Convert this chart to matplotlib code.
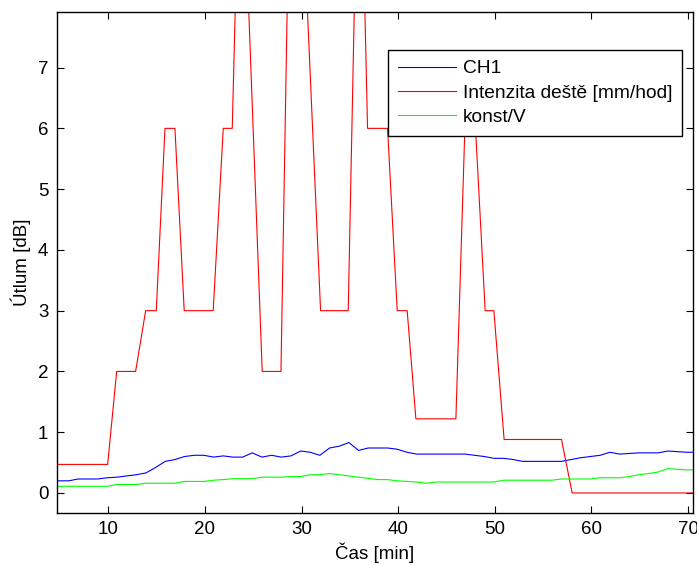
import matplotlib
matplotlib.use("Agg")
import matplotlib.pyplot as plt

plt.rcParams['font.family'] = ['Liberation Sans', 'DejaVu Sans']

# CH1 attenuation and constant/V reference, sampled about once a minute
t_att = [4.67, 5.9, 6.9, 7.9, 8.9, 9.9, 10.9, 11.9, 12.9, 13.9, 14.9, 15.9,
         16.9, 17.9, 18.9, 19.9, 20.9, 21.9, 22.9, 23.9, 24.9, 25.9, 26.9,
         27.9, 28.9, 29.9, 30.9, 31.9, 32.9, 33.9, 34.9, 35.9, 36.9, 37.9,
         38.9, 39.9, 40.9, 41.9, 42.9, 43.9, 44.9, 45.9, 46.9, 47.9, 48.9,
         49.9, 50.9, 51.9, 52.9, 53.9, 54.9, 55.9, 56.9, 57.9, 58.9, 59.9,
         60.9, 61.9, 62.9, 63.9, 64.9, 65.9, 66.9, 67.9, 68.9, 69.9, 70.5]

ch1 = [0.20, 0.20, 0.23, 0.23, 0.23, 0.25, 0.26, 0.28, 0.30, 0.33, 0.42, 0.52,
       0.55, 0.60, 0.62, 0.62, 0.59, 0.61, 0.59, 0.59, 0.66, 0.59, 0.62,
       0.59, 0.61, 0.69, 0.67, 0.62, 0.74, 0.77, 0.83, 0.70, 0.74, 0.74,
       0.74, 0.72, 0.67, 0.64, 0.64, 0.64, 0.64, 0.64, 0.64, 0.62, 0.60,
       0.57, 0.57, 0.55, 0.52, 0.52, 0.52, 0.52, 0.52, 0.55, 0.58, 0.60,
       0.62, 0.67, 0.64, 0.65, 0.66, 0.66, 0.66, 0.69, 0.68, 0.67, 0.67]

konst = [0.11, 0.11, 0.11, 0.11, 0.11, 0.11, 0.14, 0.14, 0.14, 0.16, 0.16, 0.16,
         0.16, 0.19, 0.19, 0.19, 0.21, 0.22, 0.235, 0.235, 0.235, 0.26, 0.26,
         0.26, 0.27, 0.27, 0.30, 0.30, 0.32, 0.30, 0.28, 0.26, 0.24, 0.22,
         0.22, 0.20, 0.19, 0.18, 0.16, 0.18, 0.18, 0.18, 0.18, 0.18, 0.18,
         0.18, 0.21, 0.21, 0.21, 0.21, 0.21, 0.21, 0.23, 0.23, 0.23, 0.23,
         0.25, 0.25, 0.25, 0.27, 0.30, 0.32, 0.345, 0.40, 0.39, 0.38, 0.38]

# Rain intensity [mm/hod]
t_rain = [4.67, 9.94, 10.87, 12.83, 13.87, 14.97, 15.87, 16.9, 17.86, 20.86,
          21.9, 22.83, 23.7, 25.93, 27.87, 29.1, 31.97, 34.83, 35.97, 36.83,
          38.9, 39.9, 40.93, 41.83, 45.97, 46.9, 48.0, 49.0, 49.9, 50.96,
          56.9, 58.0, 70.5]
rain = [0.47, 0.47, 2, 2, 3, 3, 6, 6, 3, 3,
        6, 6, 11.5, 2, 2, 13.4, 3, 3, 12, 6,
        6, 3, 3, 1.22, 1.22, 6, 6, 3, 3, 0.88,
        0.88, 0, 0]

x_ticks = [10, 20, 30, 40, 50, 60, 70]
y_ticks = [0, 1, 2, 3, 4, 5, 6, 7]

FS = 13.5

fig = plt.figure(figsize=(6.97, 5.65), dpi=100)
ax = fig.add_axes([0.0814, 0.092, 0.9128, 0.8873])

ax.plot(t_att, ch1, color=(0, 0, 1), lw=0.8, label='CH1')
ax.plot(t_rain, rain, color=(1, 0, 0), lw=0.8, label='Intenzita deště [mm/hod]')
ax.plot(t_att, konst, color=(0, 1, 0), lw=0.8, label='konst/V')

ax.set_xlim(4.67, 70.5)
ax.set_ylim(-0.33, 7.92)
ax.set_xticks(x_ticks)
ax.set_yticks(y_ticks)
ax.tick_params(direction='in', top=True, right=True, length=5, width=0.8,
               labelsize=FS, colors='black', pad=6)
for s in ax.spines.values():
    s.set_color('black')
    s.set_linewidth(1.0)

ax.set_xlabel('Čas [min]', fontsize=FS, labelpad=3)
ax.set_ylabel('Útlum [dB]', fontsize=FS, labelpad=5)

leg = ax.legend(loc='upper right', bbox_to_anchor=(0.983, 0.9236),
                borderaxespad=0, fontsize=13.8, fancybox=False, frameon=True,
                edgecolor='black', framealpha=1, handlelength=3.05,
                handletextpad=0.35, borderpad=0.52, labelspacing=0.36)
leg.get_frame().set_linewidth(1.0)

fig.savefig('out.png', dpi=100)
